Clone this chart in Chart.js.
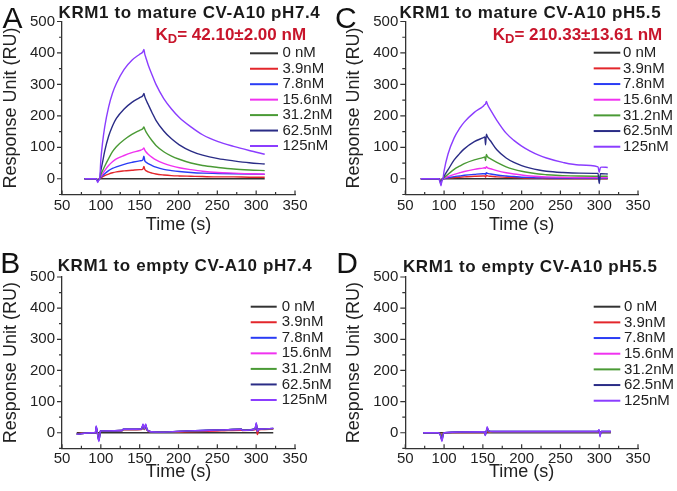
<!DOCTYPE html>
<html>
<head>
<meta charset="utf-8">
<script src="https://cdn.jsdelivr.net/npm/chart.js@4/dist/chart.umd.min.js"></script>
<style>
html,body{margin:0;padding:0;background:#fff;}
#wrap{position:relative;width:677px;height:491px;overflow:hidden;font-family:'Liberation Sans',Arial,sans-serif;color:#222;}
canvas{position:absolute;}
.t{position:absolute;white-space:nowrap;line-height:1;z-index:5;}
.letter{font-size:30px;color:#111;}
.ptitle{font-size:17px;font-weight:bold;letter-spacing:0.6px;transform:translateX(-50%);color:#1a1a1a;}
.kd{font-size:17px;font-weight:bold;color:#c8152b;}
.kd sub{font-size:13px;vertical-align:-3px;line-height:0;}
</style>
</head>
<body>
<div id="wrap">
  <canvas id="cA" width="340" height="245" style="left:0;top:0"></canvas>
  <canvas id="cC" width="340" height="245" style="left:337px;top:0"></canvas>
  <canvas id="cB" width="340" height="246" style="left:0;top:245px"></canvas>
  <canvas id="cD" width="340" height="246" style="left:337px;top:245px"></canvas>

  <div class="t letter" style="left:2.5px;top:2.8px">A</div>
  <div class="t letter" style="left:335px;top:2.8px">C</div>
  <div class="t letter" style="left:0.3px;top:247.8px">B</div>
  <div class="t letter" style="left:336.3px;top:247.8px">D</div>

  <div class="t ptitle" style="left:189.5px;top:3.5px">KRM1 to mature CV-A10 pH7.4</div>
  <div class="t ptitle" style="left:530.3px;top:3.5px">KRM1 to mature CV-A10 pH5.5</div>
  <div class="t ptitle" style="left:185px;top:256.8px">KRM1 to empty CV-A10 pH7.4</div>
  <div class="t ptitle" style="left:530.3px;top:257.8px">KRM1 to empty CV-A10 pH5.5</div>

  <div class="t kd" style="left:155.5px;top:26.1px">K<sub>D</sub>= 42.10±2.00 nM</div>
  <div class="t kd" style="left:492.8px;top:26.1px">K<sub>D</sub>= 210.33±13.61 nM</div>
</div>
<script>
// ---------------- DATA ----------------
const seriesLabels = ['0 nM', '3.9nM', '7.8nM', '15.6nM', '31.2nM', '62.5nM', '125nM'];
const xTickValues = [50, 100, 150, 200, 250, 300, 350];
const yTickValues = [0, 100, 200, 300, 400, 500];
const xMinorTicks = [75, 125, 175, 225, 275, 325];
const yMinorTicks = [-50, 50, 150, 250, 350, 450];

// Panel A: KRM1 to mature CV-A10 pH7.4
const timeA = [79, 94, 96, 97, 98.5, 100, 102, 105, 110, 115, 120, 130, 140, 150, 154, 155.5, 156.5, 158, 161, 166, 171, 181, 191, 201, 216, 231, 251, 271, 291, 311];
const A_0nM    = [0, 0, -3, -1, 0, 0, 0, 0, 0, 0, 0, 0, 0, 0, 0, 0, 0, 0, 0, 0, 0, 0, 0, 0, 0, 0, 0, 0, 0, 0];
const A_3p9nM  = [0, 0, -4, -2, 0, 3, 6, 10, 15, 19, 22, 25, 27, 29, 30, 39, 30, 26, 22, 18, 15, 12, 10, 9, 8, 7, 6, 6, 5, 5];
const A_7p8nM  = [0, 0, -5, -2, 0, 5, 9, 16, 26, 33, 38, 46, 52, 57, 60, 72, 58, 53, 48, 42, 37, 30, 26, 23, 20, 18, 17, 16, 15, 14];
const A_15p6nM = [0, 0, -5, -2, 0, 7, 14, 26, 42, 54, 63, 74, 83, 90, 94, 98, 92, 86, 78, 68, 60, 49, 41, 35, 29, 24, 20, 18, 16, 15];
const A_31p2nM = [0, 0, -6, -3, 0, 12, 24, 40, 64, 86, 102, 124, 141, 154, 159, 165, 158, 150, 138, 121, 106, 86, 72, 62, 50, 42, 36, 31, 28, 26];
const A_62p5nM = [0, 0, -8, -4, 0, 25, 50, 88, 135, 168, 192, 222, 243, 258, 264, 271, 262, 252, 236, 210, 186, 152, 127, 108, 88, 75, 64, 57, 51, 47];
const A_125nM  = [0, 0, -12, -6, 0, 60, 110, 165, 228, 272, 303, 348, 377, 396, 403, 411, 397, 385, 362, 330, 300, 255, 222, 195, 165, 140, 118, 103, 90, 78];

// Panel C: KRM1 to mature CV-A10 pH5.5
const timeC = [70, 93, 95, 96, 97, 98.5, 100, 105, 113, 120, 126, 139, 150, 152.5, 153.5, 154.5, 156, 160, 168, 180, 190, 200, 211, 222, 232, 253, 274, 298.5, 300, 301.5, 303, 311];
const C_0nM    = [0, 0, -2, -4, -1, 0, 0, 0, 0, 0, 0, 0, 0, 0, 0, 0, 0, 0, 0, 0, 0, 0, 0, 0, 0, 0, 0, 0, 0, 0, 0, 0];
const C_3p9nM  = [0, 0, -3, -6, -2, 0, 1, 2, 4, 5, 6, 8, 9, 9, 5, 11, 9, 8, 6, 5, 4, 3, 2, 2, 1, 1, 1, 1, 0, 1, 1, 1];
const C_7p8nM  = [0, 0, -5, -9, -3, 0, 1, 3, 7, 9, 11, 14, 16, 16, 14, 19, 17, 15, 12, 9, 7, 5, 4, 3, 3, 2, 2, 2, -3, 2, 2, 2];
const C_15p6nM = [0, 0, -5, -9, -3, 0, 2, 7, 14, 19, 23, 30, 34, 35, 33, 38, 35, 32, 26, 19, 15, 12, 9, 7, 6, 5, 4, 4, 2, 4, 4, 4];
const C_31p2nM = [0, 0, -7, -12, -4, 0, 4, 14, 30, 40, 48, 60, 67, 69, 58, 77, 70, 63, 52, 38, 30, 24, 19, 15, 13, 10, 9, 8, 0, 8, 8, 8];
const C_62p5nM = [0, 0, -10, -18, -6, 0, 8, 28, 60, 80, 95, 118, 130, 133, 108, 142, 133, 120, 92, 66, 52, 42, 34, 28, 24, 20, 18, 17, -15, 16, 16, 15];
const C_125nM  = [0, 0, -12, -22, -8, 0, 25, 78, 130, 160, 180, 211, 230, 236, 238, 246, 236, 218, 186, 145, 122, 104, 88, 75, 66, 52, 44, 38, 20, 36, 37, 36];

// Panel B: KRM1 to empty CV-A10 pH7.4
const timeB = [69, 88, 93, 94, 95.5, 97.5, 99.5, 101, 127, 129, 152.5, 154.3, 156, 157.7, 159.5, 165, 178, 213, 255, 281, 282.5, 298.5, 300.2, 301.5, 303.5, 307, 322];
const B_0nM    = [0, 0, 0, 0, 0, 0, 0, 0, 0, 0, 0, 0, 0, 0, 0, 0, 0, 0, 0, 0, 0, 0, 0, 0, 0, 0, 0];
const B_3p9nM  = [-3, 0, 0, 10, 0, -12, 4, 5, 6, 9, 10, 16, 10, 16, 8, 2, 1, 3, 6, 8, 7, 9, 14, -6, 9, 10, 11];
const B_7p8nM  = [-5, 0, 0, 20, 0, -26, 5, 6, 7, 11, 12, 26, 12, 26, 10, 3, 2, 6, 9, 11, 8, 12, 30, 5, 12, 12, 14];
const B_15p6nM = [-4, 0, 0, 16, 0, -20, 5, 6, 7, 10, 11, 23, 11, 23, 9, 3, 2, 5, 8, 10, 8, 11, 26, 5, 11, 12, 13];
const B_31p2nM = [-4, 0, 0, 14, 0, -18, 5, 6, 7, 10, 11, 22, 11, 22, 9, 3, 2, 5, 9, 11, 9, 12, 24, 6, 12, 12, 13];
const B_62p5nM = [-5, 0, 0, 18, 0, -24, 5, 6, 7, 11, 12, 25, 12, 25, 10, 3, 2, 6, 9, 11, 8, 12, 28, 6, 12, 12, 14];
const B_125nM  = [-5, 0, 0, 22, 0, -28, 5, 6, 7, 11, 12, 28, 12, 28, 10, 3, 2, 6, 9, 11, 8, 12, 32, 5, 12, 12, 14];

// Panel D: KRM1 to empty CV-A10 pH5.5
const timeD = [73, 92, 95.5, 97.2, 98.9, 100.7, 152.2, 153, 154.3, 155.6, 157.3, 163, 298, 299.8, 301.1, 302.4, 315];
const D_0nM    = [0, 0, 0, 0, 0, 0, 0, 0, 0, 0, 0, 0, 0, 0, 0, 0, 0];
const D_3p9nM  = [0, 0, -3, -6, -1, 0, 1, -2, 1, 4, 2, 1, 1, 2, -2, 1, 1];
const D_7p8nM  = [0, 0, -8, -22, -4, 0, 3, -7, 3, 14, 5, 4, 4, 8, -9, 4, 4];
const D_15p6nM = [0, 0, -6, -14, -3, 0, 2, -5, 2, 10, 4, 3, 3, 6, -6, 3, 3];
const D_31p2nM = [0, 0, -5, -12, -2, 0, 2, -4, 2, 9, 4, 3, 3, 5, -5, 3, 3];
const D_62p5nM = [0, 0, -9, -25, -5, 0, 3, -8, 3, 16, 6, 4, 4, 8, -10, 4, 4];
const D_125nM  = [0, 0, -10, -28, -5, 0, 3, -9, 3, 19, 6, 4, 4, 10, -13, 4, 4];

// ---------------- STYLE ----------------
const seriesColors = ['#333333', '#e3262b', '#2a3cf5', '#f032f0', '#4a9a35', '#2a2c86', '#8b3dff'];
Chart.defaults.font.family = "'Liberation Sans', Arial, sans-serif";
Chart.defaults.color = '#222';

function makeDatasets(time, seriesList) {
  return seriesList.map((vals, i) => ({
    label: seriesLabels[i],
    data: time.map((t, j) => ({ x: t, y: vals[j] })),
    borderColor: seriesColors[i],
    backgroundColor: seriesColors[i],
    borderWidth: 1.4,
    pointRadius: 0,
    cubicInterpolationMode: 'monotone',
    fill: false,
    order: seriesList.length - 1 - i
  }));
}

const panelDecor = {
  id: 'panelDecor',
  afterDraw(chart, args, opts) {
    const ctx = chart.ctx;
    const xs = chart.scales.x, ys = chart.scales.y;
    const ca = chart.chartArea;
    ctx.save();
    ctx.strokeStyle = '#333';
    ctx.lineWidth = 1.2;
    ctx.beginPath();
    yTickValues.forEach(v => { const p = ys.getPixelForValue(v); ctx.moveTo(ca.left - 5, p); ctx.lineTo(ca.left, p); });
    yMinorTicks.forEach(v => { const p = ys.getPixelForValue(v); ctx.moveTo(ca.left - 3, p); ctx.lineTo(ca.left, p); });
    xTickValues.forEach(v => { const p = xs.getPixelForValue(v); ctx.moveTo(p, ca.bottom); ctx.lineTo(p, ca.bottom - 4); });
    xMinorTicks.forEach(v => { const p = xs.getPixelForValue(v); ctx.moveTo(p, ca.bottom); ctx.lineTo(p, ca.bottom - 2.5); });
    ctx.stroke();
    // legend
    ctx.font = "15px 'Liberation Sans', Arial, sans-serif";
    ctx.textBaseline = 'middle';
    ctx.textAlign = 'left';
    chart.data.datasets.forEach((ds, i) => {
      const y = opts.y0 + i * opts.dy;
      ctx.strokeStyle = ds.borderColor;
      ctx.lineWidth = 2;
      ctx.beginPath();
      ctx.moveTo(opts.x1, y);
      ctx.lineTo(opts.x2, y);
      ctx.stroke();
      ctx.fillStyle = '#222';
      ctx.fillText(ds.label, opts.tx, y);
    });
    ctx.restore();
  }
};

function buildChart(id, time, series, g) {
  return new Chart(document.getElementById(id), {
    type: 'line',
    data: { datasets: makeDatasets(time, series) },
    options: {
      responsive: false,
      animation: false,
      events: [],
      layout: { padding: { left: 0, top: g.top, right: g.W - g.right, bottom: 0 } },
      plugins: {
        legend: { display: false },
        tooltip: { enabled: false },
        panelDecor: g.legend
      },
      scales: {
        x: {
          type: 'linear', min: 50, max: 350,
          grid: { display: false, drawTicks: false },
          border: { display: true, color: '#333', width: 1.3 },
          ticks: { color: '#222', font: { size: 15 }, padding: 2, maxRotation: 0, autoSkip: false },
          afterBuildTicks: s => { s.ticks = xTickValues.map(v => ({ value: v })); },
          afterFit: s => { s.height = g.H - g.bottom; },
          title: { display: true, text: 'Time (s)', color: '#222', font: { size: 18 }, padding: { top: 0, bottom: g.xtPad } }
        },
        y: {
          type: 'linear', min: -50, max: 500,
          grid: { display: false, drawTicks: false },
          border: { display: true, color: '#333', width: 1.3 },
          ticks: { color: '#222', font: { size: 15 }, padding: 7, autoSkip: false },
          afterBuildTicks: s => { s.ticks = yTickValues.map(v => ({ value: v })); },
          afterFit: s => { s.width = g.left; },
          title: { display: true, text: 'Response Unit (RU)', color: '#222', font: { size: 18 }, padding: { top: g.ytPad, bottom: 0 } }
        }
      }
    },
    plugins: [panelDecor]
  });
}

buildChart('cA', timeA, [A_0nM, A_3p9nM, A_7p8nM, A_15p6nM, A_31p2nM, A_62p5nM, A_125nM],
  { W: 340, H: 245, left: 62, right: 295, top: 21.5, bottom: 194.5, xtPad: 9.5, ytPad: 0,
    legend: { x1: 250, x2: 278, tx: 282.5, y0: 53.3, dy: 15.45 } });
buildChart('cC', timeC, [C_0nM, C_3p9nM, C_7p8nM, C_15p6nM, C_31p2nM, C_62p5nM, C_125nM],
  { W: 340, H: 245, left: 68.3, right: 301, top: 21.5, bottom: 194.5, xtPad: 9.5, ytPad: 6,
    legend: { x1: 256.7, x2: 283.3, tx: 286, y0: 52.7, dy: 15.67 } });
buildChart('cB', timeB, [B_0nM, B_3p9nM, B_7p8nM, B_15p6nM, B_31p2nM, B_62p5nM, B_125nM],
  { W: 340, H: 246, left: 62, right: 295, top: 32, bottom: 203.3, xtPad: 8, ytPad: 0,
    legend: { x1: 250.7, x2: 276.7, tx: 281.7, y0: 61.7, dy: 15.55 } });
buildChart('cD', timeD, [D_0nM, D_3p9nM, D_7p8nM, D_15p6nM, D_31p2nM, D_62p5nM, D_125nM],
  { W: 340, H: 246, left: 68.3, right: 301, top: 32, bottom: 203.3, xtPad: 8, ytPad: 6,
    legend: { x1: 256.7, x2: 283.3, tx: 287, y0: 61.7, dy: 15.67 } });
</script>
</body>
</html>
